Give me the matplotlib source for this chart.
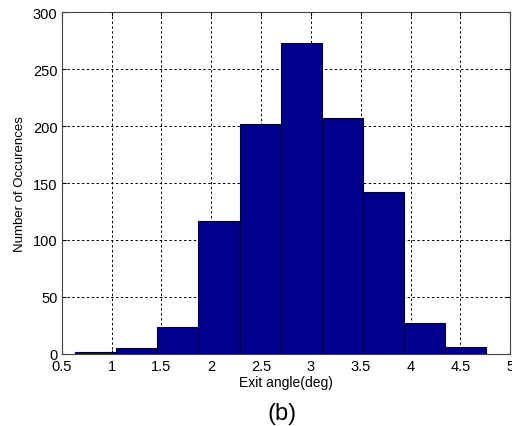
import numpy as np
import matplotlib
matplotlib.use("Agg")
import matplotlib.pyplot as plt

plt.rcParams['font.family'] = ['Liberation Sans', 'DejaVu Sans']

# histogram of exit angles
bin_lo = 0.634
bin_hi = 4.759
counts = [2, 5, 24, 117, 202, 273, 207, 142, 27, 6]
xticks = [0.5, 1, 1.5, 2, 2.5, 3, 3.5, 4, 4.5, 5]
yticks = [0, 50, 100, 150, 200, 250, 300]

edges = np.linspace(bin_lo, bin_hi, len(counts) + 1)

fig = plt.figure(figsize=(5.12, 4.27), dpi=100)
ax = fig.add_axes([0.1205, 0.169, 0.876, 0.800])

ax.bar(edges[:-1], counts, width=np.diff(edges), align='edge',
       color='#00008C', edgecolor='#000030', lw=0.8, zorder=3)

ax.set_xlim(0.5, 5)
ax.set_ylim(0, 300)
ax.set_xticks(xticks)
ax.set_xticklabels([f'{t:g}' for t in xticks])
ax.set_yticks(yticks)
ax.tick_params(direction='in', length=3, labelsize=10.5, top=True, right=True)
ax.tick_params(axis='x', pad=4)
ax.tick_params(axis='y', pad=3)
ax.grid(True, color='black', ls=(0, (2.5, 2.5)), lw=0.7, zorder=0)
for s in ax.spines.values():
    s.set_color('#444444')
    s.set_linewidth(0.8)

ax.set_xlabel('Exit angle(deg)', fontsize=10, labelpad=1)
ax.set_ylabel('Number of Occurences', fontsize=9.5, labelpad=5)
fig.text(0.551, 0.030, '(b)', fontsize=17, ha='center', va='center')

fig.savefig('out.png', dpi=100)
